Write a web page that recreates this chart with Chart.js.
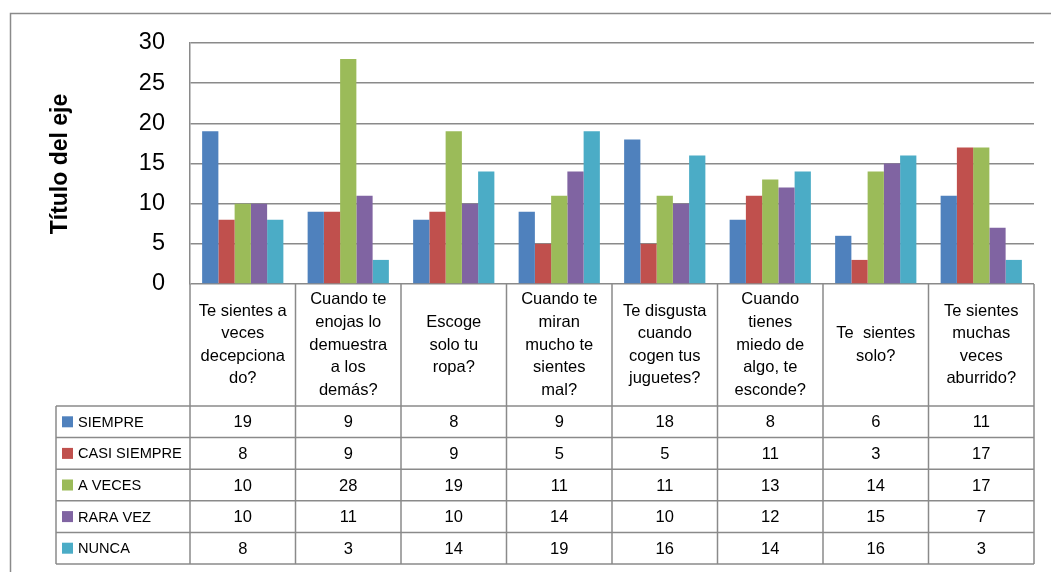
<!DOCTYPE html>
<html>
<head>
<meta charset="utf-8">
<script src="https://cdn.jsdelivr.net/npm/chart.js@4/dist/chart.umd.min.js"></script>
<style>
  html, body { margin: 0; padding: 0; background: #fff; }
  #wrap { width: 1051px; height: 572px; position: relative; }
</style>
</head>
<body>
<div id="wrap"><canvas id="barChart"></canvas></div>
<script>
const categories = [
  ['Te sientes a', 'veces', 'decepciona', 'do?'],
  ['Cuando te', 'enojas lo', 'demuestra', 'a los', 'demás?'],
  ['Escoge', 'solo tu', 'ropa?'],
  ['Cuando te', 'miran', 'mucho te', 'sientes', 'mal?'],
  ['Te disgusta', 'cuando', 'cogen tus', 'juguetes?'],
  ['Cuando', 'tienes', 'miedo de', 'algo, te', 'esconde?'],
  ['Te  sientes', 'solo?'],
  ['Te sientes', 'muchas', 'veces', 'aburrido?'],
];
const seriesNames = ['SIEMPRE', 'CASI SIEMPRE', 'A VECES', 'RARA VEZ', 'NUNCA'];
const siempre     = [19, 9, 8, 9, 18, 8, 6, 11];
const casiSiempre = [8, 9, 9, 5, 5, 11, 3, 17];
const aVeces      = [10, 28, 19, 11, 11, 13, 14, 17];
const raraVez     = [10, 11, 10, 14, 10, 12, 15, 7];
const nunca       = [8, 3, 14, 19, 16, 14, 16, 3];
const yTicks      = [0, 5, 10, 15, 20, 25, 30];
const axisTitle   = 'Título del eje';

const colors = ['#4F81BD', '#C0504D', '#9BBB59', '#8064A2', '#4BACC6'];
const seriesValues = [siempre, casiSiempre, aVeces, raraVez, nunca];
const FONT = '"Liberation Sans", Arial, sans-serif';
const LINE = '#8a8a8a';

// draws the data table under the plot, the axis title and the outer frame
const tablePlugin = {
  id: 'dataTable',
  afterDraw(chart) {
    const ctx = chart.ctx;
    const xs = chart.scales.x;
    const area = chart.chartArea;
    const n = categories.length;
    const step = (area.right - area.left) / n;
    const headTop = area.bottom;
    const headBottom = 406;
    const rowH = 31.6;
    const legLeft = 56;
    const tableBottom = headBottom + rowH * seriesNames.length;

    ctx.save();
    ctx.strokeStyle = LINE;
    ctx.lineWidth = 1.5;

    // outer chart frame
    ctx.beginPath();
    ctx.moveTo(10.5, 600);
    ctx.lineTo(10.5, 13.5);
    ctx.lineTo(1060, 13.5);
    ctx.stroke();

    // vertical lines of the category columns
    ctx.beginPath();
    for (let i = 0; i <= n; i++) {
      const x = area.left + step * i;
      ctx.moveTo(x, headTop);
      ctx.lineTo(x, tableBottom);
    }
    // legend column
    ctx.moveTo(legLeft, headBottom);
    ctx.lineTo(legLeft, tableBottom);
    // horizontal lines
    for (let r = 0; r <= seriesNames.length; r++) {
      const y = headBottom + rowH * r;
      ctx.moveTo(legLeft, y);
      ctx.lineTo(area.right, y);
    }
    ctx.stroke();

    // header text
    ctx.fillStyle = '#000';
    ctx.font = '16.5px ' + FONT;
    ctx.textAlign = 'center';
    ctx.textBaseline = 'middle';
    const lh = 22.6;
    const headMid = (headTop + headBottom) / 2;
    categories.forEach((lines, i) => {
      const cx = xs.getPixelForValue(i);
      const y0 = headMid - (lines.length - 1) * lh / 2;
      lines.forEach((t, k) => ctx.fillText(t, cx, y0 + k * lh));
    });

    // rows
    seriesNames.forEach((name, r) => {
      const cy = headBottom + rowH * r + rowH / 2;
      ctx.fillStyle = colors[r];
      ctx.fillRect(62, cy - 5.5, 11, 11);
      ctx.fillStyle = '#000';
      ctx.textAlign = 'left';
      ctx.font = '14.6px ' + FONT;
      ctx.fillText(name, 78, cy + 1);
      ctx.textAlign = 'center';
      ctx.font = '16.5px ' + FONT;
      seriesValues[r].forEach((v, i) => {
        ctx.fillText(String(v), xs.getPixelForValue(i), cy + 1);
      });
    });

    // y axis title
    ctx.translate(61, 164);
    ctx.rotate(-Math.PI / 2);
    ctx.font = 'bold 23px ' + FONT;
    ctx.fillText(axisTitle, 0, 0);
    ctx.restore();
  }
};

new Chart(document.getElementById('barChart'), {
  type: 'bar',
  data: {
    labels: categories,
    datasets: seriesNames.map((name, i) => ({
      label: name,
      data: seriesValues[i],
      backgroundColor: colors[i],
      borderWidth: 0,
      categoryPercentage: 0.77,
      barPercentage: 1.0,
    })),
  },
  options: {
    responsive: true,
    maintainAspectRatio: false,
    animation: false,
    layout: { padding: { left: 0, top: 43, right: 17, bottom: 288 } },
    plugins: {
      legend: { display: false },
      tooltip: { enabled: false },
    },
    scales: {
      x: {
        display: false,
      },
      y: {
        min: 0,
        max: 30,
        afterFit(scale) { scale.width = 190; },
        afterBuildTicks(scale) { scale.ticks = yTicks.map(v => ({ value: v })); },
        ticks: {
          padding: 25,
          color: '#000',
          font: { family: FONT, size: 23.5 },
        },
        grid: { color: LINE, lineWidth: 1.5, drawTicks: false },
        border: { display: true, color: LINE, width: 1.5 },
      },
    },
  },
  plugins: [tablePlugin],
});
</script>
</body>
</html>
